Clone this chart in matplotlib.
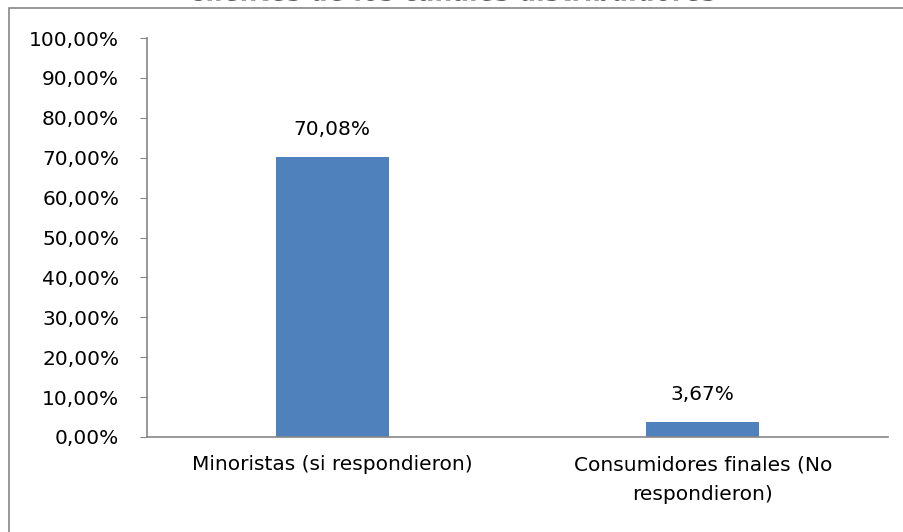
import matplotlib.pyplot as plt
import matplotlib.patheffects as pe
from matplotlib.patches import Rectangle
from matplotlib.ticker import FuncFormatter

# Porcentaje de clientes por canal
categorias = ['Minoristas (si respondieron)', 'Consumidores finales (No\nrespondieron)']
porcentajes = [70.08, 3.67]
titulo = 'Clientes de los canales distribuidores'

plt.rcParams['font.family'] = ['DejaVu Sans']

fig = plt.figure(figsize=(9.04, 5.32), dpi=100)
ax = fig.add_axes([147 / 904, 1 - 437 / 532, (888 - 147) / 904, (437 - 38) / 532])

x = range(len(categorias))
barras = ax.bar(x, porcentajes, width=0.305, color='#4F81BD')

for b, v in zip(barras, porcentajes):
    ax.text(b.get_x() + b.get_width() / 2, v + 4.5, f'{v:.2f}%'.replace('.', ','),
            ha='center', va='bottom', fontsize=14.5)

ax.set_xlim(-0.5, len(categorias) - 0.5)
ax.set_ylim(0, 100)
ax.set_yticks(range(0, 101, 10))
ax.yaxis.set_major_formatter(FuncFormatter(lambda v, p: f'{v:.2f}%'.replace('.', ',')))
ax.set_xticks(list(x))
ax.set_xticklabels(categorias, fontsize=14.5, linespacing=1.75)

for s in ['top', 'right']:
    ax.spines[s].set_visible(False)
for s in ['left', 'bottom']:
    ax.spines[s].set_color('#868686')
    ax.spines[s].set_linewidth(1.2)
ax.tick_params(axis='y', length=5, color='#868686', labelsize=14.5, pad=15)
ax.tick_params(axis='x', length=0, pad=13)

# marco del grafico y titulo (queda cortado arriba)
fig.patches.append(Rectangle((9 / 904, -0.1), 1.2, 1.1 - 8 / 532, transform=fig.transFigure,
                             fill=False, edgecolor='#868686', linewidth=1.2))
fig.text(0.5, 1 - 0.5 / 532, titulo, ha='center', va='baseline', fontsize=18,
         fontweight='bold', color='#404040', path_effects=[pe.Normal()])

fig.savefig('out.png', dpi=100)
